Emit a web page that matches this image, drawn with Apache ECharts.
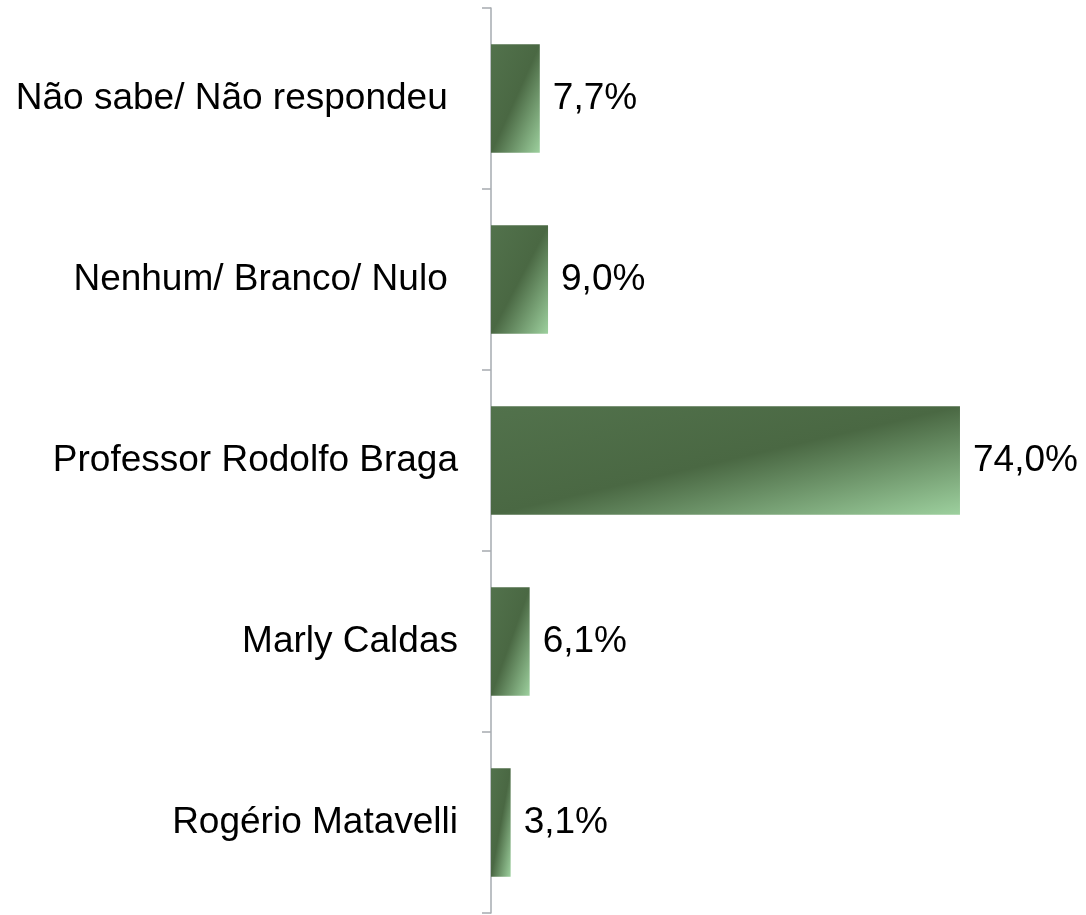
<!DOCTYPE html>
<html>
<head>
<meta charset="utf-8">
<script src="https://cdn.jsdelivr.net/npm/echarts@6/dist/echarts.min.js"></script>
<style>
  html,body{margin:0;padding:0;background:#fff;}
  #chart{width:1086px;height:915px;}
</style>
</head>
<body>
<div id="chart"></div>
<script>
// categorias de cima para baixo
let categorias=["Não sabe/ Não respondeu ","Nenhum/ Branco/ Nulo ","Professor Rodolfo Braga","Marly Caldas","Rogério Matavelli"]
let valores=[7.7,9.0,74.0,6.1,3.1]

let myChart=echarts.init(document.getElementById("chart"))

// gradiente com linhas paralelas à diagonal da barra (estilo PowerPoint)
function gradiente(w,h){
    let d=w*w+h*h
    return new echarts.graphic.LinearGradient(0,0,2*h*h/d,2*w*w/d,[
        {offset:0,color:"#52724c"},
        {offset:0.5,color:"#4a6843"},
        {offset:1,color:"#9dd09e"}
    ])
}

let option={
    animation:false,
    grid:{
        left:491,
        right:88,
        top:8,
        bottom:2
    },
    xAxis:{
        type:"value",
        min:0,
        max:80,
        show:false
    },
    yAxis:{
        type:"category",
        inverse:true,
        data:categorias,
        axisLine:{
            show:true,
            lineStyle:{color:"#a6abb0",width:1.5}
        },
        axisTick:{
            show:true,
            length:9,
            lineStyle:{color:"#a6abb0",width:1.5}
        },
        axisLabel:{
            margin:33,
            color:"#000",
            fontSize:37,
            fontFamily:"Liberation Sans, Arial, sans-serif"
        }
    },
    series:[{
        type:"bar",
        data:valores,
        barWidth:"60%",
        itemStyle:{color:"#4a6843"},
        label:{
            show:true,
            position:"right",
            distance:13,
            color:"#000",
            fontSize:37,
            fontFamily:"Liberation Sans, Arial, sans-serif",
            formatter:(p)=>p.value.toFixed(1).replace(".",",")+"%"
        }
    }]
}
myChart.setOption(option)

// segunda passada: tamanho em pixels de cada barra para o gradiente
let x0=myChart.convertToPixel({xAxisIndex:0},0)
let banda=myChart.convertToPixel({yAxisIndex:0},1)-myChart.convertToPixel({yAxisIndex:0},0)
let h=Math.abs(banda)*0.6
myChart.setOption({
    series:[{
        data:valores.map((v)=>({
            value:v,
            itemStyle:{color:gradiente(myChart.convertToPixel({xAxisIndex:0},v)-x0,h)}
        }))
    }]
})
</script>
</body>
</html>
